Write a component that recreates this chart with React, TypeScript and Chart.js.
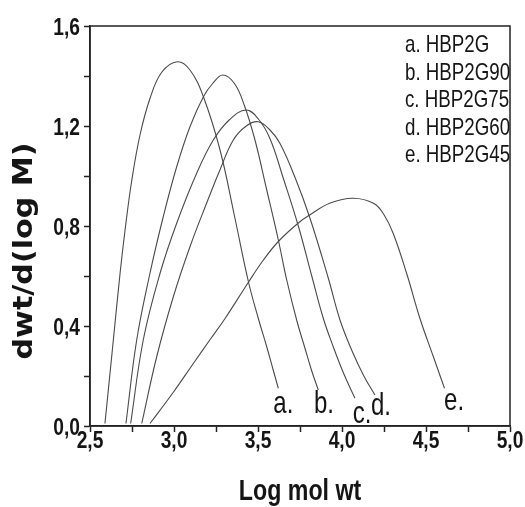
import React, { useEffect, useRef } from 'react';
import { Chart, registerables } from 'chart.js';

Chart.register(...registerables);

// ---- data ----
const seriesNames = ['a. HBP2G', 'b. HBP2G90', 'c. HBP2G75', 'd. HBP2G60', 'e. HBP2G45'];
const curveTags = ['a.', 'b.', 'c.', 'd.', 'e.'];

const aX = [2.589, 2.639, 2.679, 2.708, 2.748, 2.798, 2.857, 2.927, 3.02, 3.095, 3.175, 3.274, 3.36, 3.443, 3.502, 3.552, 3.59, 3.621];
const aY = [0.01, 0.344, 0.611, 0.78, 0.98, 1.165, 1.31, 1.415, 1.457, 1.424, 1.317, 1.104, 0.84, 0.577, 0.43, 0.317, 0.225, 0.151];

const bX = [2.714, 2.778, 2.857, 2.936, 3.016, 3.095, 3.175, 3.23, 3.29, 3.36, 3.42, 3.482, 3.55, 3.621, 3.671, 3.73, 3.78, 3.82, 3.859];
const bY = [0.01, 0.344, 0.611, 0.837, 1.037, 1.197, 1.317, 1.37, 1.404, 1.37, 1.28, 1.144, 0.95, 0.744, 0.584, 0.424, 0.31, 0.22, 0.144];

const cX = [2.742, 2.817, 2.917, 3.016, 3.135, 3.234, 3.33, 3.429, 3.5, 3.571, 3.651, 3.74, 3.82, 3.889, 3.948, 4.01, 4.077];
const cY = [0.01, 0.344, 0.611, 0.811, 1.011, 1.144, 1.225, 1.264, 1.23, 1.15, 0.99, 0.8, 0.6, 0.43, 0.317, 0.21, 0.111];

const dX = [2.808, 2.897, 2.996, 3.095, 3.194, 3.274, 3.353, 3.43, 3.502, 3.57, 3.631, 3.72, 3.81, 3.919, 3.988, 4.06, 4.13, 4.196];
const dY = [0.01, 0.277, 0.517, 0.717, 0.891, 1.025, 1.144, 1.2, 1.217, 1.185, 1.13, 0.995, 0.83, 0.59, 0.424, 0.3, 0.2, 0.124];

const eX = [2.857, 2.996, 3.115, 3.214, 3.304, 3.443, 3.53, 3.621, 3.74, 3.81, 3.93, 4.067, 4.19, 4.25, 4.305, 4.385, 4.464, 4.544, 4.61];
const eY = [0.01, 0.135, 0.25, 0.345, 0.43, 0.575, 0.662, 0.738, 0.812, 0.845, 0.892, 0.911, 0.89, 0.845, 0.77, 0.61, 0.43, 0.277, 0.151];

// curve tag anchors (data coordinates, text baseline)
const tagX = [3.651, 3.893, 4.119, 4.232, 4.667];
const tagY = [0.053, 0.051, 0.013, 0.044, 0.064];

const xTitle = 'Log mol wt';
const yTitle = 'dwt/d(log M)';

const seriesX = [aX, bX, cX, dX, eX];
const seriesY = [aY, bY, cY, dY, eY];

const SANS = "'Liberation Sans', Arial, sans-serif";
const INK = '#151515';

const fmt = (v: number) => v.toFixed(1).replace('.', ',');

function drawText(
  ctx: CanvasRenderingContext2D,
  text: string,
  x: number,
  y: number,
  font: string,
  sx: number,
  align: CanvasTextAlign,
  baseline: CanvasTextBaseline,
  rot = 0,
) {
  ctx.save();
  ctx.translate(x, y);
  if (rot) ctx.rotate(rot);
  ctx.scale(sx, 1);
  ctx.font = font;
  ctx.textAlign = align;
  ctx.textBaseline = baseline;
  ctx.fillStyle = INK;
  ctx.fillText(text, 0, 0);
  ctx.restore();
}

const decorPlugin = {
  id: 'decor',
  afterDraw(chart: any) {
    const { ctx, chartArea, scales } = chart;
    const xs = scales.x;
    const ys = scales.y;
    ctx.save();
    // frame (top & right)
    ctx.strokeStyle = '#222';
    ctx.lineWidth = 1.5;
    ctx.strokeRect(chartArea.left, chartArea.top, chartArea.right - chartArea.left, chartArea.bottom - chartArea.top);
    ctx.restore();

    // tick labels
    const tickFont = `bold 24px ${SANS}`;
    xs.ticks.forEach((t: any) => {
      const v = Number(t.value);
      if (Math.round(v * 4) % 2 !== 0) return;
      drawText(ctx, fmt(v), xs.getPixelForValue(v), chartArea.bottom + 22, tickFont, 0.8, 'center', 'alphabetic');
    });
    ys.ticks.forEach((t: any) => {
      const v = Number(t.value);
      if (Math.round(v * 10) % 4 !== 0) return;
      drawText(ctx, fmt(v), chartArea.left - 10, ys.getPixelForValue(v) + 8.6, tickFont, 0.8, 'right', 'alphabetic');
    });

    // axis titles
    drawText(ctx, xTitle, (chartArea.left + chartArea.right) / 2, chartArea.bottom + 74, `bold 29px ${SANS}`, 0.8, 'center', 'alphabetic');
    ctx.save();
    ctx.font = `bold 27px 'DejaVu Sans', sans-serif`;
    const w = ctx.measureText(yTitle).width;
    ctx.restore();
    drawText(ctx, yTitle, 31.5, (chartArea.top + chartArea.bottom) / 2 + 25, `bold 27px 'DejaVu Sans', sans-serif`, 217 / w, 'center', 'alphabetic', -Math.PI / 2);

    // curve tags
    curveTags.forEach((t, i) => {
      drawText(ctx, t, xs.getPixelForValue(tagX[i]), ys.getPixelForValue(tagY[i]), `32px ${SANS}`, 0.75, 'center', 'alphabetic');
    });

    // legend text
    chart.data.datasets.forEach((ds: any, i: number) => {
      drawText(ctx, ds.label, chartArea.right - 105, chartArea.top + 26 + i * 27.6, `24px ${SANS}`, 0.78, 'left', 'alphabetic');
    });
  },
};

export default function App() {
  const ref = useRef<HTMLCanvasElement>(null);
  useEffect(() => {
    document.body.style.margin = '0';
    const datasets = seriesNames.map((name, i) => ({
      label: name,
      data: seriesX[i].map((x, j) => ({ x, y: seriesY[i][j] })),
      borderColor: '#4a4a4a',
      borderWidth: 1.1,
      pointRadius: 0,
      fill: false,
      tension: 0.4,
    }));
    const chart = new Chart(ref.current!, {
      type: 'line',
      data: { datasets },
      plugins: [decorPlugin],
      options: {
        responsive: false,
        animation: false,
        layout: { padding: { left: 0, right: 15, top: 26, bottom: 0 } },
        plugins: { legend: { display: false }, tooltip: { enabled: false } },
        scales: {
          x: {
            type: 'linear',
            min: 2.5,
            max: 5,
            afterFit: (s: any) => { s.height = 81; },
            ticks: { stepSize: 0.25, autoSkip: false, display: false },
            grid: { drawOnChartArea: false, drawTicks: true, tickLength: 6, tickColor: '#222', tickWidth: 1.5 },
            border: { display: true, color: '#222', width: 1.5 },
          },
          y: {
            type: 'linear',
            min: 0,
            max: 1.6,
            afterFit: (s: any) => { s.width = 90; },
            ticks: { stepSize: 0.2, autoSkip: false, display: false },
            grid: { drawOnChartArea: false, drawTicks: true, tickLength: 6, tickColor: '#222', tickWidth: 1.5 },
            border: { display: true, color: '#222', width: 1.5 },
          },
        },
      },
    });
    return () => chart.destroy();
  }, []);
  return (
    <div style={{ position: 'absolute', left: 0, top: 0, width: 525, height: 507 }}>
      <canvas ref={ref} width={525} height={507} />
    </div>
  );
}
